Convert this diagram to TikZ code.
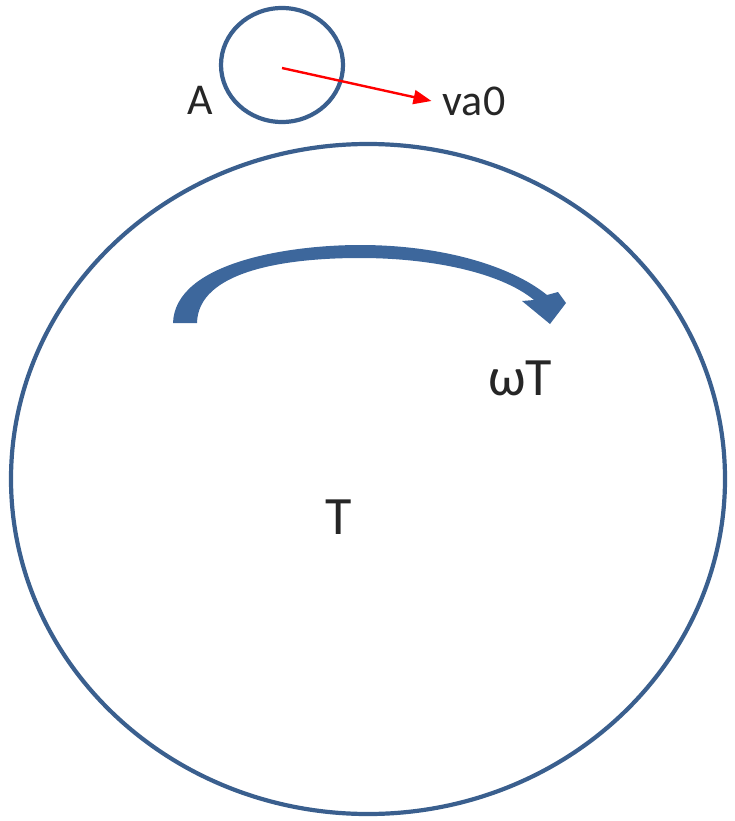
\documentclass[tikz,border=0pt]{standalone}
\usepackage{fontspec}
\setmainfont{Carlito}
\usetikzlibrary{arrows.meta}
\definecolor{ringblue}{HTML}{3A5F8E}
\definecolor{arrowblue}{HTML}{3D679C}
\tikzset{
  ring/.style={draw=ringblue,line width=4.2pt},
  lbl/.style={font=\fontsize{44}{50}\selectfont,text=black!85,inner sep=0pt},
  biglbl/.style={font=\fontsize{54}{60}\selectfont,text=black!85,inner sep=0pt},
  vel/.style={draw=red,line width=2.4pt,-{Triangle[length=18pt,width=14pt]}}
}
\begin{document}
\begin{tikzpicture}[x=1pt,y=-1pt]
\useasboundingbox (0,0) rectangle (734,821);
% big ring T
\draw[ring] (368,479) ellipse [x radius=357,y radius=335];
% small ring A
\draw[ring] (282,65) ellipse [x radius=61,y radius=57];
\coordinate (ca) at (282,68);
\node[lbl] (va) at (474,101) {va0};
\node[lbl] (a) at (200,100) {A};
\draw[vel] (ca) -- ([xshift=-11pt]va.west);
% curved block arrow
\fill[arrowblue] (173,323) .. controls (175,262) and (290,245) .. (360,245)
  .. controls (440,245) and (510,265) .. (547,295)
  -- (558,292) -- (566,303) -- (550,324) -- (522,301) -- (534,300)
  .. controls (500,272) and (430,258) .. (360,258)
  .. controls (282,258) and (198,272) .. (197,323) -- cycle;
\node[biglbl] (w) at (520,378) {ωT};
\node[biglbl] (t) at (339,517) {T};
\end{tikzpicture}
\end{document}
